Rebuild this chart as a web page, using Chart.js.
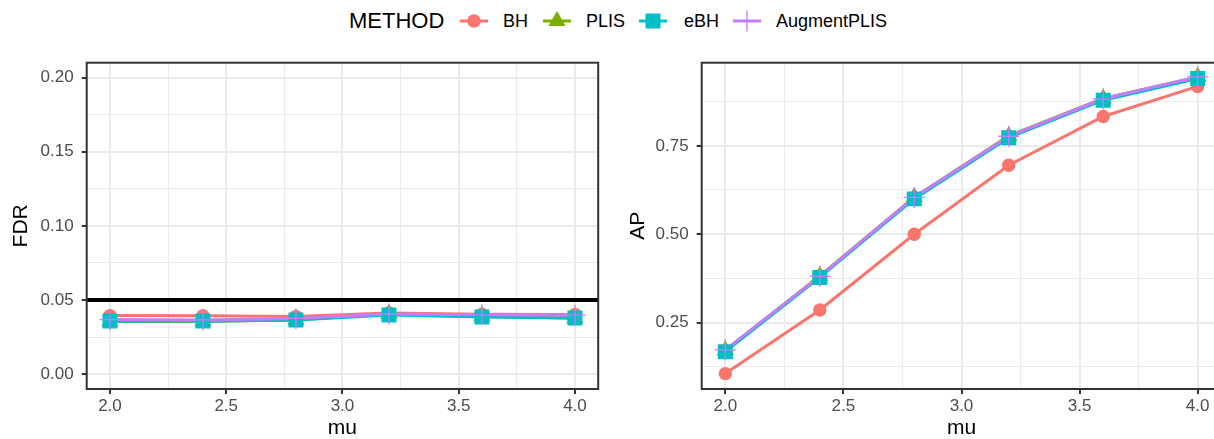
<!DOCTYPE html>
<html>
<head>
<meta charset="utf-8">
<script src="https://cdn.jsdelivr.net/npm/chart.js@4"></script>
<style>
html,body{margin:0;padding:0;background:#fff;overflow:hidden;width:1214px;height:439px;}
#wrap{position:relative;width:1214px;height:439px;overflow:hidden;background:#fff;}
#c1{position:absolute;left:0;top:0;}
#c2{position:absolute;left:610px;top:0;}
#legend{position:absolute;left:0;top:0;width:1214px;height:44px;font-family:"Liberation Sans",Arial,Helvetica,sans-serif;color:#000;white-space:nowrap;}
#legend .item{position:absolute;top:7px;height:28px;line-height:28px;}
#legend .lt{font-size:22px;}
#legend .lab{font-size:18px;}
#legend svg{display:block;}
</style>
</head>
<body>
<div id="wrap">
  <div id="legend"></div>
  <canvas id="c1" width="610" height="439"></canvas>
  <canvas id="c2" width="630" height="439"></canvas>
</div>
<script>
// ---------------- data ----------------
const mu = [2.0, 2.4, 2.8, 3.2, 3.6, 4.0];
const methods = ['BH', 'PLIS', 'eBH', 'AugmentPLIS'];
const legendTitle = 'METHOD';

const fdrBH   = [0.0395, 0.0394, 0.0389, 0.0412, 0.0404, 0.0403];
const fdrPLIS = [0.0355, 0.0355, 0.0366, 0.0407, 0.0390, 0.0377];
const fdrEBH  = [0.0358, 0.0358, 0.0366, 0.0399, 0.0386, 0.0378];
const fdrAug  = [0.0368, 0.0366, 0.0376, 0.0406, 0.0400, 0.0398];

const apBH   = [0.106, 0.286, 0.500, 0.695, 0.833, 0.918];
const apPLIS = [0.172, 0.382, 0.605, 0.778, 0.884, 0.945];
const apEBH  = [0.168, 0.378, 0.600, 0.773, 0.879, 0.940];
const apAug  = [0.173, 0.381, 0.604, 0.777, 0.883, 0.945];

const fdrLevel = 0.05;

const muTickValues  = [2.0, 2.5, 3.0, 3.5, 4.0];
const muTickLabels  = ['2.0', '2.5', '3.0', '3.5', '4.0'];
const fdrTickValues = [0.00, 0.05, 0.10, 0.15, 0.20];
const fdrTickLabels = ['0.00', '0.05', '0.10', '0.15', '0.20'];
const apTickValues  = [0.25, 0.50, 0.75];
const apTickLabels  = ['0.25', '0.50', '0.75'];

// ---------------- styles ----------------
const colors = {BH:'#F8766D', PLIS:'#7CAE00', eBH:'#00BFC4', AugmentPLIS:'#C77CFF'};
const FONT = '"Liberation Sans", Arial, Helvetica, sans-serif';
Chart.defaults.font.family = FONT;

function pts(ys){ return mu.map((m,i)=>({x:m, y:ys[i]})); }

function minorBetween(major, lo, hi){
  const step = major[1]-major[0];
  const out = [];
  for (let v = major[0]-step/2; v <= major[major.length-1]+step/2+1e-9; v += step){
    if (v >= lo-1e-9 && v <= hi+1e-9) out.push(+v.toFixed(6));
  }
  return out;
}

function axisDef(opts){
  const majorSet = opts.major.map(v=>+v.toFixed(6));
  const labelOf = (v)=>{
    const k = majorSet.findIndex(m=>Math.abs(m-v)<1e-7);
    return k>=0 ? opts.labels[k] : '';
  };
  const isMajor = (v)=> majorSet.some(m=>Math.abs(m-v)<1e-7);
  const allTicks = majorSet.concat(minorBetween(majorSet, opts.min, opts.max)).sort((a,b)=>a-b);
  return {
    type:'linear', min:opts.min, max:opts.max, position:opts.position,
    afterBuildTicks:(s)=>{ s.ticks = allTicks.map(v=>({value:v})); },
    afterFit:(s)=>{ if (opts.width!=null) s.width = opts.width; if (opts.height!=null) s.height = opts.height; },
    border:{display:false},
    grid:{
      color:'#EBEBEB',
      lineWidth:(c)=> (c.tick && isMajor(c.tick.value)) ? 2 : 1.1,
      tickColor:(c)=> (c.tick && isMajor(c.tick.value)) ? '#333333' : 'rgba(0,0,0,0)',
      tickWidth:2,
      tickLength:5,
      drawTicks:true
    },
    ticks:{
      autoSkip:false, maxRotation:0, minRotation:0, includeBounds:false,
      padding:opts.tickPad,
      color:'#4D4D4D',
      font:{size:17, family:FONT},
      callback:(v)=>labelOf(v)
    },
    title:{
      display:true, text:opts.title, color:'#000',
      font:{size:21, family:FONT, lineHeight:1},
      padding:opts.titlePad
    }
  };
}

const panelBorder = {
  id:'panelBorder',
  afterDatasetsDraw(chart){
    const {ctx, chartArea:a} = chart;
    ctx.save();
    ctx.strokeStyle = '#333333';
    ctx.lineWidth = 2;
    ctx.strokeRect(a.left, a.top, a.right-a.left, a.bottom-a.top);
    ctx.restore();
  }
};

const refLine = {
  id:'refLine',
  beforeDatasetsDraw(chart, args, o){
    if (o.value == null) return;
    const {ctx, chartArea:a} = chart;
    const y = chart.scales.y.getPixelForValue(o.value);
    ctx.save();
    ctx.strokeStyle = '#000';
    ctx.lineWidth = 4.2;
    ctx.beginPath();
    ctx.moveTo(a.left, y); ctx.lineTo(a.right, y);
    ctx.stroke();
    ctx.restore();
  }
};

function buildDatasets(series){
  const ds = [];
  const n = methods.length;
  methods.forEach((m,i)=>{
    ds.push({
      label:m+' line', data:pts(series[i]), showLine:true, borderColor:colors[m],
      borderWidth:3, pointRadius:0, tension:0, fill:false, order:2*n-i
    });
  });
  const styles = {
    BH:{pointStyle:'circle', pointRadius:6.7, pointBorderWidth:0},
    PLIS:{pointStyle:'triangle', pointRadius:10, pointBorderWidth:0},
    eBH:{pointStyle:'rect', pointRadius:10.6, pointBorderWidth:0},
    AugmentPLIS:{pointStyle:'cross', pointRadius:10.5, pointBorderWidth:1.3}
  };
  methods.forEach((m,i)=>{
    ds.push(Object.assign({
      label:m, data:pts(series[i]), showLine:false,
      pointBackgroundColor:colors[m], pointBorderColor:colors[m],
      order:n-i
    }, styles[m]));
  });
  return ds;
}

function makeChart(id, cfg){
  return new Chart(document.getElementById(id), {
    type:'line',
    data:{datasets:buildDatasets(cfg.series)},
    options:{
      responsive:false, animation:false, events:[],
      layout:{padding:cfg.padding},
      plugins:{legend:{display:false}, tooltip:{enabled:false}, refLine:{value:cfg.ref}},
      scales:{
        x: axisDef({min:1.9, max:4.1, major:muTickValues, labels:muTickLabels, position:'bottom',
                    height:50, tickPad:2, title:'mu', titlePad:{top:0,bottom:0}}),
        y: axisDef({min:cfg.yMin, max:cfg.yMax, major:cfg.yTicks, labels:cfg.yLabels, position:'left',
                    width:cfg.yWidth, tickPad:8, title:cfg.yTitle, titlePad:{top:cfg.yTitlePad,bottom:0}})
      }
    },
    plugins:[panelBorder, refLine]
  });
}

makeChart('c1', {
  series:[fdrBH, fdrPLIS, fdrEBH, fdrAug],
  yMin:-0.01, yMax:0.21, yTicks:fdrTickValues, yLabels:fdrTickLabels,
  yTitle:'FDR', yWidth:86.7, yTitlePad:11.2, ref:fdrLevel,
  padding:{top:62.7, right:3.7, bottom:0, left:0}
});
makeChart('c2', {
  series:[apBH, apPLIS, apEBH, apAug],
  yMin:0.0625, yMax:0.985, yTicks:apTickValues, yLabels:apTickLabels,
  yTitle:'AP', yWidth:91.7, yTitlePad:17.8, ref:null,
  padding:{top:62.7, right:18.7, bottom:0, left:0}
});

// ---------------- legend (HTML text + SVG keys) ----------------
const legendKeyLeft   = [460, 543, 639, 733];
const legendLabelLeft = [503, 586, 684, 776];
function keySvg(m){
  const c = colors[m];
  let mark = '';
  if (m==='BH') mark = `<circle cx="14" cy="14" r="6.8" fill="${c}"/>`;
  if (m==='PLIS') mark = `<polygon points="14,4 22.66,19 5.34,19" fill="${c}"/>`;
  if (m==='eBH') mark = `<rect x="6.5" y="6.5" width="15" height="15" fill="${c}"/>`;
  if (m==='AugmentPLIS') mark = `<path d="M14 3.5 V24.5 M3.5 14 H24.5" stroke="${c}" stroke-width="1.3"/>`;
  return `<svg width="28" height="28" viewBox="0 0 28 28"><line x1="0" y1="14" x2="28" y2="14" stroke="${c}" stroke-width="3"/>${mark}</svg>`;
}
const lg = document.getElementById('legend');
let html = `<span class="item lt" style="left:349px">${legendTitle}</span>`;
methods.forEach((m,i)=>{
  html += `<div class="item" style="left:${legendKeyLeft[i]}px">${keySvg(m)}</div>`;
  html += `<span class="item lab" style="left:${legendLabelLeft[i]}px">${m}</span>`;
});
lg.innerHTML = html;
</script>
</body>
</html>
